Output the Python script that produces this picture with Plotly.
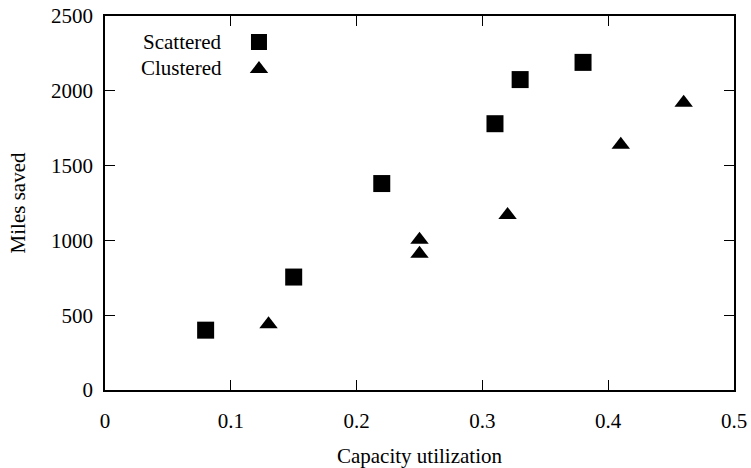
import plotly.graph_objects as go

# Data
scattered_x = [0.08, 0.15, 0.22, 0.31, 0.33, 0.38]
scattered_y = [400, 755, 1380, 1780, 2075, 2190]

clustered_x = [0.13, 0.25, 0.25, 0.32, 0.41, 0.46]
clustered_y = [440, 1005, 910, 1170, 1640, 1920]

series_names = ["Scattered", "Clustered"]
x_ticks = [0, 0.1, 0.2, 0.3, 0.4, 0.5]
x_tick_labels = ["0", "0.1", "0.2", "0.3", "0.4", "0.5"]
y_ticks = [0, 500, 1000, 1500, 2000, 2500]
y_tick_labels = ["0", "500", "1000", "1500", "2000", "2500"]

FONT = "Liberation Serif"
FS = 21

fig = go.Figure()
fig.add_trace(go.Scatter(
    x=scattered_x, y=scattered_y, mode="markers", name=" ",
    marker=dict(symbol="square", size=17, color="black"),
))
fig.add_trace(go.Scatter(
    x=clustered_x, y=clustered_y, mode="markers", name=" ",
    marker=dict(symbol="triangle-up", size=16, color="black"),
))

axis_common = dict(
    showline=True, linecolor="black", linewidth=1.5, mirror="allticks",
    ticks="inside", ticklen=10, tickwidth=1.2, tickcolor="black",
    showgrid=False, zeroline=False, automargin=False,
    ticklabeloverflow="allow",
    tickfont=dict(family=FONT, size=FS, color="black"),
)

fig.update_xaxes(
    range=[0, 0.5], tickvals=x_ticks, ticktext=x_tick_labels,
    title=dict(text="Capacity utilization", font=dict(family=FONT, size=FS, color="black"), standoff=20),
    ticklabelstandoff=11,
    **axis_common,
)
fig.update_yaxes(
    range=[0, 2500], tickvals=y_ticks, ticktext=y_tick_labels,
    title=dict(text="Miles saved", font=dict(family=FONT, size=FS, color="black"), standoff=20),
    ticklabelstandoff=6,
    **axis_common,
)

fig.update_layout(
    width=751, height=468,
    margin=dict(l=105, r=17, t=16, b=78),
    paper_bgcolor="white", plot_bgcolor="white",
    font=dict(family=FONT, size=FS, color="black"),
    showlegend=True,
    legend=dict(
        x=0.213, y=0.98, xanchor="left", yanchor="top",
        bgcolor="rgba(0,0,0,0)", font=dict(family=FONT, size=18.5),
        itemwidth=30, tracegroupgap=0,
    ),
    annotations=[
        dict(text=series_names[0], xref="paper", yref="paper", x=0.189, y=0.930,
             xanchor="right", yanchor="middle", showarrow=False,
             font=dict(family=FONT, size=FS, color="black")),
        dict(text=series_names[1], xref="paper", yref="paper", x=0.189, y=0.861,
             xanchor="right", yanchor="middle", showarrow=False,
             font=dict(family=FONT, size=FS, color="black")),
    ],
)

# Remove the default 8px page margin so the figure fills the window exactly.
fig.write_html(
    "out.html",
    config={"displayModeBar": False},
    post_script="document.body.style.margin='0';",
)
